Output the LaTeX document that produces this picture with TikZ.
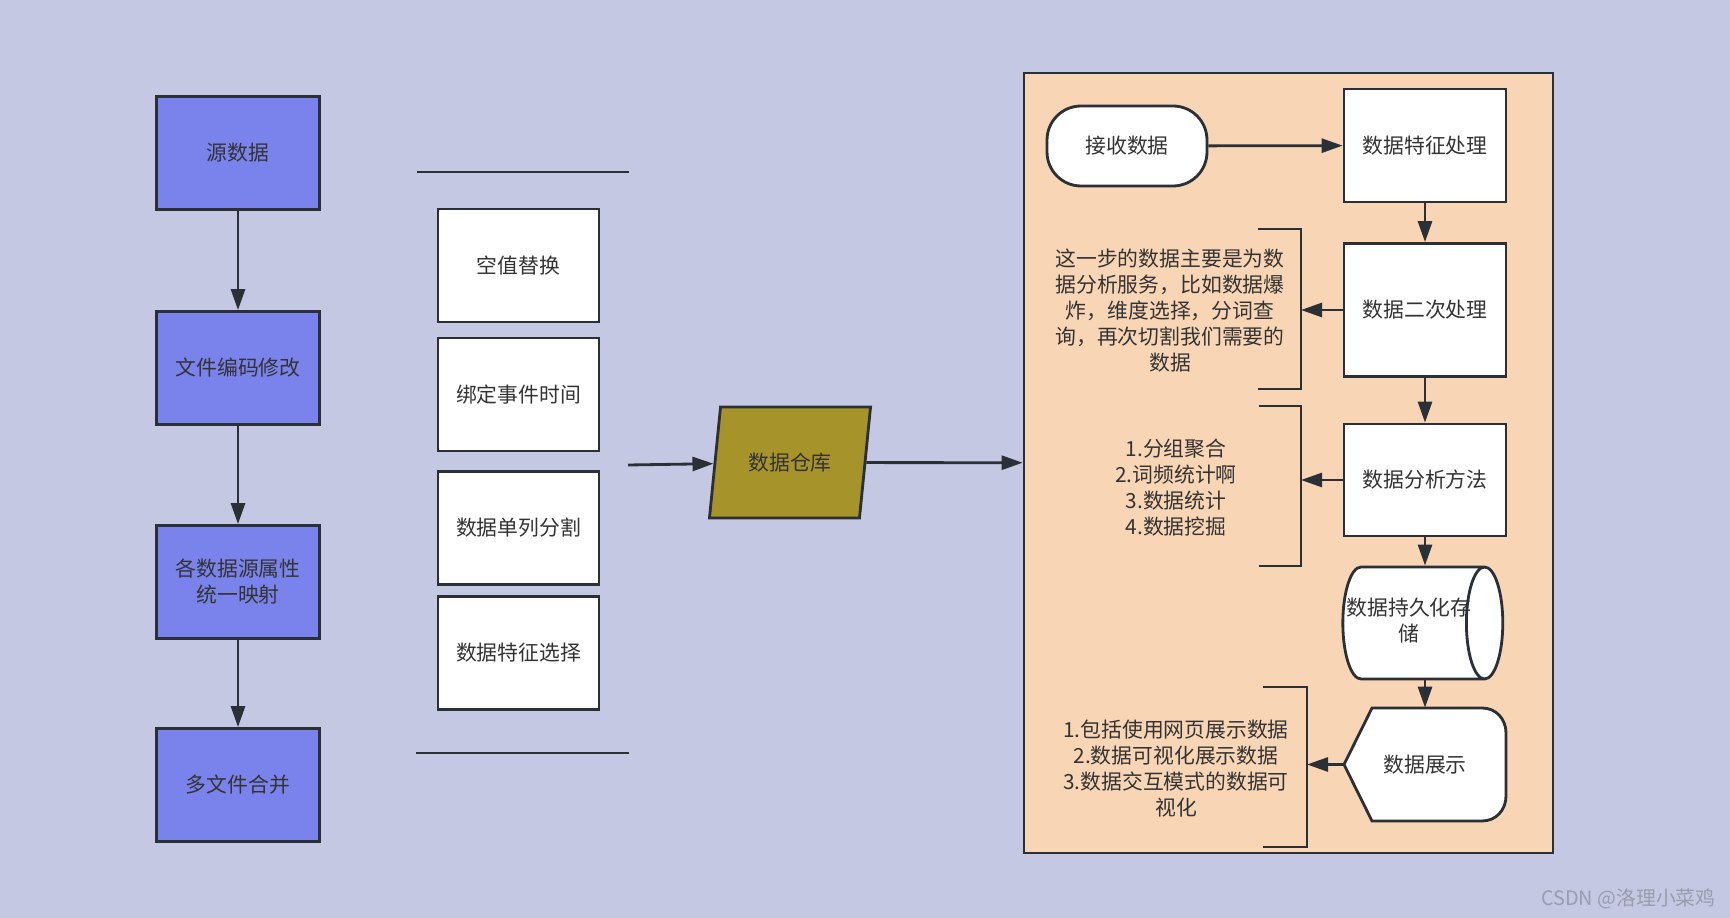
\documentclass[tikz,border=0pt]{standalone}
\usepackage{fontspec}
\setmainfont{Noto Sans CJK SC}
\usetikzlibrary{arrows.meta, shapes.geometric}

\definecolor{bgpurple}{HTML}{C4C8E2}
\definecolor{srcblue}{HTML}{7A83EB}
\definecolor{whgold}{HTML}{A6932A}
\definecolor{peach}{HTML}{F8D5B5}
\definecolor{ink}{HTML}{2B2F36}
\definecolor{txt}{HTML}{333333}
\definecolor{wmgrey}{HTML}{9A9DAE}

\begin{document}
\begin{tikzpicture}[
    x=0.02cm, y=-0.02cm,
    >={Triangle[length=4.2mm, width=2.8mm]},
    font=\fontsize{11.85}{14.8}\selectfont,
    srcbox/.style = {draw=ink, line width=1.6pt, fill=srcblue, text=txt, align=center,
                     minimum width=3.26cm, minimum height=2.26cm, inner sep=0pt},
    cbox/.style   = {draw=ink, line width=1.6pt, fill=white, text=txt,
                     minimum width=3.22cm, minimum height=2.26cm, inner sep=0pt},
    pbox/.style   = {draw=ink, line width=1.6pt, fill=white, text=txt, align=center,
                     minimum width=3.24cm, inner sep=0pt},
    arr/.style    = {->, draw=ink, line width=1.6pt},
    brk/.style    = {draw=ink, line width=1.6pt},
    note/.style   = {text=txt, align=center, inner sep=0pt}
  ]

  \useasboundingbox (0,0) rectangle (1730,918);
  \fill[bgpurple] (0,0) rectangle (1730,918);

  % --- source pipeline (left column) ---
  \node[srcbox] (src)   at (238,153) {源数据};
  \node[srcbox] (enc)   at (238,368) {文件编码修改};
  \node[srcbox] (map)   at (238,582) {各数据源属性\\统一映射};
  \node[srcbox] (merge) at (238,785) {多文件合并};

  \draw[arr] (src) -- (enc);
  \draw[arr] (enc) -- (map);
  \draw[arr] (map) -- (merge);

  % --- cleaning steps (middle column) ---
  \draw[brk] (417,172) -- (629,172);
  \draw[brk] (416,753) -- (629,753);

  \node[cbox] (fill)  at (518.5,265.5) {空值替换};
  \node[cbox] (bind)  at (518.5,394.5) {绑定事件时间};
  \node[cbox] (split) at (518.5,528)   {数据单列分割};
  \node[cbox] (pick)  at (518.5,653)   {数据特征选择};

  % --- warehouse ---
  \node[trapezium, trapezium left angle=71, trapezium right angle=109, trapezium stretches=true,
        draw=ink, line width=1.6pt, fill=whgold, text=txt,
        minimum width=3.24cm, minimum height=2.22cm, inner sep=0pt] (wh) at (790,462.5) {数据仓库};

  % --- processing stage (right frame) ---
  \node[draw=ink, line width=1.6pt, fill=peach, minimum width=10.58cm, minimum height=15.6cm,
        inner sep=0pt] (stage) at (1288.5,463) {};

  \coordinate (feed) at (628,465);
  \draw[arr] (feed) -- (wh);
  \draw[arr] (wh) -- (stage);

  \node[draw=ink, line width=1.6pt, fill=white, text=txt, rounded corners=0.68cm,
        minimum width=3.2cm, minimum height=1.6cm, inner sep=0pt] (recv) at (1127,146) {接收数据};
  \node[pbox, minimum height=2.26cm] (feat) at (1425,145.5) {数据特征处理};
  \node[pbox, minimum height=2.66cm] (sec)  at (1425,310)   {数据二次处理};
  \node[pbox, minimum height=2.24cm] (ana)  at (1425,480)   {数据分析方法};
  \node[cylinder, draw=ink, line width=1.6pt, fill=white, text=txt, aspect=0.7,
        minimum width=2.24cm, minimum height=3.2cm, inner sep=0pt] (store) at (1413,623)
       {\makebox[0pt]{\begin{tabular}{@{}c@{}}数据持久化存\\储\end{tabular}\hspace{0.16cm}}};

  \draw[pbox] (1344,764.5) -- (1372,708) -- (1482,708)
        .. controls (1496,708) and (1506,719) .. (1506,733) -- (1506,796)
        .. controls (1506,810) and (1496,821) .. (1482,821) -- (1372,821) -- cycle;
  \node[text=txt, minimum width=3.24cm, minimum height=2.26cm, inner sep=0pt] (show) at (1425,764.5) {数据展示};

  \draw[arr] (recv) -- (feat);
  \draw[arr] (feat) -- (sec);
  \draw[arr] (sec) -- (ana);
  \draw[arr] (ana) -- (ana |- store.north);
  \draw[arr] (ana |- store.south) -- (show);

  % --- annotations (brackets left of the steps) ---
  \draw[brk] (1258,229) -- (1301,229) -- (1301,389) -- (1258,389);
  \draw[brk] (1259,406) -- (1301,406) -- (1301,566) -- (1259,566);
  \draw[brk] (1263,687) -- (1307,687) -- (1307,847) -- (1263,847);
  \coordinate (br1) at (1301,310);
  \coordinate (br2) at (1301,480);
  \coordinate (br3) at (1307,764.5);

  \draw[arr] (sec) -- (br1);
  \draw[arr] (ana) -- (br2);
  \draw[arr] (show) -- (br3);

  \node[note] (note1) at (1170,311)
       {这一步的数据主要是为数\\据分析服务，比如数据爆\\炸，维度选择，分词查\\询，再次切割我们需要的\\数据};
  \node[note] (note2) at (1176,488) {1.分组聚合\\2.词频统计啊\\3.数据统计\\4.数据挖掘};
  \node[note] (note3) at (1176,769)
       {1.包括使用网页展示数据\\2.数据可视化展示数据\\3.数据交互模式的数据可\\视化};

  % --- watermark ---
  \node[text=wmgrey, anchor=east, inner sep=0pt, font=\fontsize{11.3}{13}\selectfont] (mark) at (1716,899) {CSDN @洛理小菜鸡};

\end{tikzpicture}
\end{document}
